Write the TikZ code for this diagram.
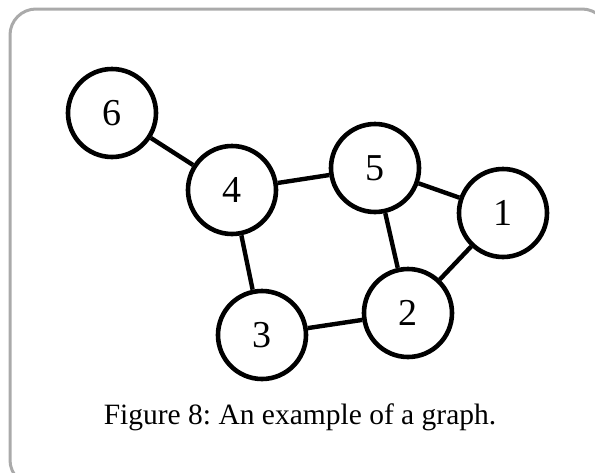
\documentclass[tikz,border=0pt]{standalone}
\usepackage{fontspec}
\setmainfont{Liberation Serif}
\frenchspacing
\begin{document}
\begin{tikzpicture}[x=1pt,y=-1pt,
  vertex/.style={circle,draw=black,line width=4.6pt,minimum size=88pt,inner sep=0pt,font=\fontsize{38}{44}\selectfont},
  edge/.style={line width=4.4pt}]
\useasboundingbox (0,0) rectangle (595,472);
\begin{scope}
\clip (0,0) rectangle (595,472);
\draw[line width=3pt,draw={rgb,255:red,170;green,170;blue,170},rounded corners=26pt] (10,9) rectangle (608,486);
\end{scope}
\node[vertex] (n6) at (112,113) {6};
\node[vertex] (n4) at (232,190) {4};
\node[vertex] (n5) at (375,168) {5};
\node[vertex] (n1) at (503,213) {1};
\node[vertex] (n2) at (408,313) {2};
\node[vertex] (n3) at (262,335) {3};
\draw[edge] (n6) -- (n4);
\draw[edge] (n4) -- (n5);
\draw[edge] (n4) -- (n3);
\draw[edge] (n5) -- (n1);
\draw[edge] (n5) -- (n2);
\draw[edge] (n1) -- (n2);
\draw[edge] (n3) -- (n2);
\node[font=\fontsize{29.5}{34}\selectfont] (cap) at (300,417) {Figure 8: An example of a graph.};
\end{tikzpicture}
\end{document}
